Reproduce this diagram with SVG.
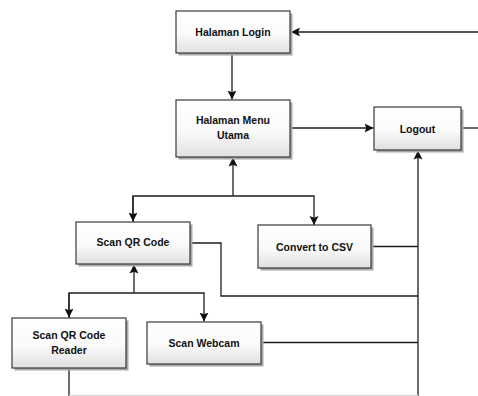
<svg xmlns="http://www.w3.org/2000/svg" width="478" height="396" viewBox="0 0 478 396">
  <style>
    .box { fill: url(#boxFill); stroke: #3a3a3a; stroke-width: 1.2; }
    .shadow { fill: #a8a8a8; }
    .label { font-family: "Liberation Sans", Arial, sans-serif; font-size: 10.5px; font-weight: bold; fill: #111; text-anchor: middle; dominant-baseline: central; }
    .wire { fill: none; stroke: #1e1e1e; stroke-width: 1.3; }
    .faint { fill: none; stroke: #d8d8d8; stroke-width: 1.2; }
  </style>
  <defs>
    <linearGradient id="boxFill" x1="0" y1="0" x2="0" y2="1">
      <stop offset="0" stop-color="#ffffff"/>
      <stop offset="0.55" stop-color="#fafafa"/>
      <stop offset="1" stop-color="#e0e0e0"/>
    </linearGradient>
    <marker id="arrow" viewBox="0 0 10 10" refX="10" refY="5" markerWidth="9" markerHeight="10" markerUnits="userSpaceOnUse" orient="auto">
      <path d="M0,0 L10,5 L0,10 L2,5 z" fill="#111"/>
    </marker>
  </defs>

  <rect width="478" height="396" fill="#ffffff"/>

  <!-- connectors -->
  <g id="connectors">
    <!-- external return into login -->
    <line class="wire" x1="478" y1="32" x2="291" y2="32" marker-end="url(#arrow)"/>
    <!-- login to main menu -->
    <line class="wire" x1="232" y1="53" x2="232" y2="99.5" marker-end="url(#arrow)"/>
    <!-- main menu to logout -->
    <line class="wire" x1="290" y1="128" x2="373.5" y2="128" marker-end="url(#arrow)"/>
    <line class="wire" x1="461" y1="128" x2="478" y2="128"/>
    <!-- branch from main menu -->
    <line class="wire" x1="233" y1="196" x2="233" y2="157.5" marker-end="url(#arrow)"/>
    <polyline class="wire" points="133,221.5 133,196 314,196 314,225" marker-end="url(#arrow)"/>
    <line class="wire" x1="133" y1="196" x2="133" y2="221.5" marker-end="url(#arrow)"/>
    <!-- collector line up to logout -->
    <line class="wire" x1="418" y1="396" x2="418" y2="150.5" marker-end="url(#arrow)"/>
    <line class="wire" x1="371" y1="246.5" x2="418" y2="246.5"/>
    <polyline class="wire" points="190,243 221,243 221,296 418,296"/>
    <!-- branch from scan QR code -->
    <line class="wire" x1="134" y1="293" x2="134" y2="264.5" marker-end="url(#arrow)"/>
    <polyline class="wire" points="69,317.5 69,293 204,293 204,321.5" marker-end="url(#arrow)"/>
    <line class="wire" x1="69" y1="293" x2="69" y2="317.5" marker-end="url(#arrow)"/>
    <line class="wire" x1="261" y1="342.5" x2="418" y2="342.5"/>
    <line class="wire" x1="69" y1="368" x2="69" y2="396"/>
    <line class="faint" x1="69" y1="395.5" x2="418" y2="395.5"/>
  </g>

  <g id="halaman-login">
    <rect class="shadow" x="178.5" y="13.5" width="114" height="42"/>
    <rect class="box" x="176" y="11" width="114" height="42"/>
    <text class="label" x="233" y="32">Halaman Login</text>
  </g>

  <g id="halaman-menu-utama">
    <rect class="shadow" x="178.5" y="102.5" width="114" height="57"/>
    <rect class="box" x="176" y="100" width="114" height="57"/>
    <text class="label" x="233" y="120">Halaman Menu</text>
    <text class="label" x="233" y="135">Utama</text>
  </g>

  <g id="logout">
    <rect class="shadow" x="376.5" y="109.5" width="87" height="43"/>
    <rect class="box" x="374" y="107" width="87" height="43"/>
    <text class="label" x="417.5" y="129">Logout</text>
  </g>

  <g id="scan-qr-code">
    <rect class="shadow" x="78.5" y="224.5" width="114" height="42"/>
    <rect class="box" x="76" y="222" width="114" height="42"/>
    <text class="label" x="133" y="242">Scan QR Code</text>
  </g>

  <g id="convert-to-csv">
    <rect class="shadow" x="260.5" y="227.5" width="113" height="43"/>
    <rect class="box" x="258" y="225" width="113" height="43"/>
    <text class="label" x="314.5" y="246.5">Convert to CSV</text>
  </g>

  <g id="scan-qr-code-reader">
    <rect class="shadow" x="14.5" y="320.5" width="114" height="50"/>
    <rect class="box" x="12" y="318" width="114" height="50"/>
    <text class="label" x="69" y="335">Scan QR Code</text>
    <text class="label" x="69" y="350">Reader</text>
  </g>

  <g id="scan-webcam">
    <rect class="shadow" x="149.5" y="324.5" width="114" height="42"/>
    <rect class="box" x="147" y="322" width="114" height="42"/>
    <text class="label" x="204" y="342.5">Scan Webcam</text>
  </g>
</svg>
